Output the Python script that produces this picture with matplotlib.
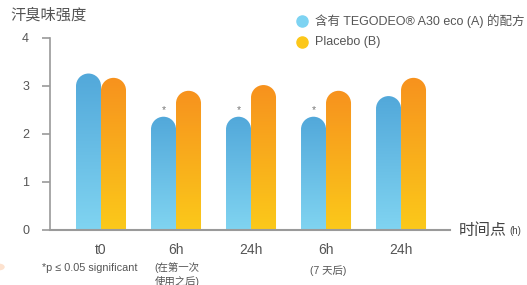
import numpy as np
import matplotlib
matplotlib.use('Agg')
import matplotlib.pyplot as plt
from matplotlib.path import Path
from matplotlib.patches import PathPatch, Circle
from matplotlib.lines import Line2D
from matplotlib.colors import LinearSegmentedColormap
from matplotlib.transforms import Affine2D

plt.rcParams['font.family'] = ['Liberation Sans', 'Noto Sans CJK SC', 'DejaVu Sans']

# --- data ---
groups = ["t0", "6h", "24h", "6h", "24h"]
values_a = [3.26, 2.36, 2.36, 2.36, 2.79]   # TEGODEO A30 eco
values_b = [3.17, 2.90, 3.02, 2.90, 3.17]   # Placebo
significant = [False, True, True, True, False]
legend_labels = ["含有 TEGODEO® A30 eco (A) 的配方", "Placebo (B)"]
y_ticks = [0, 1, 2, 3, 4]

W, H = 527, 285
fig = plt.figure(figsize=(W / 100, H / 100), dpi=100)
# axes: x 50..450 px, y (bottom) 230 .. (top) 20 px
ax = fig.add_axes([50 / W, (H - 230) / H, 400 / W, 210 / H])
XMIN, XMAX = -0.68, 4.653
YMAX = 210 / 48
ax.set_xlim(XMIN, XMAX)
ax.set_ylim(0, YMAX)

px_x = 400 / (XMAX - XMIN)
px_y = 210 / YMAX

blue_cmap = LinearSegmentedColormap.from_list("b", ["#80d4f1", "#52a8da"])
orange_cmap = LinearSegmentedColormap.from_list("o", ["#fbc91a", "#f7921e"])

bw = 1 / 3
grad = np.linspace(0, 1, 256).reshape(-1, 1)


def round_bar(xc, h, cmap):
    rx = bw / 2
    ry = rx * px_x / px_y
    x0, x1 = xc - rx, xc + rx
    arc = Path.arc(0, 180)
    arc = Affine2D().scale(rx, ry).translate(xc, h - ry).transform_path(arc)
    verts = [(x0, 0), (x1, 0), (x1, h - ry)] + list(arc.vertices[1:]) + [(x0, 0)]
    codes = [Path.MOVETO, Path.LINETO, Path.LINETO] + list(arc.codes[1:]) + [Path.CLOSEPOLY]
    patch = PathPatch(Path(verts, codes), facecolor='none', edgecolor='none')
    ax.add_patch(patch)
    im = ax.imshow(grad, extent=[x0, x1, 0, h], origin='lower', cmap=cmap,
                   aspect='auto', interpolation='bilinear', zorder=2)
    im.set_clip_path(patch)


x = np.arange(len(groups))
for i in range(len(groups)):
    round_bar(x[i] - bw / 2, values_a[i], blue_cmap)
    round_bar(x[i] + bw / 2, values_b[i], orange_cmap)
    if significant[i]:
        ax.text(x[i] - bw / 2, values_a[i] + 0.03, "*", ha='center', va='bottom',
                fontsize=7.5, color="#777777")

# axes styling
for s in ["top", "right"]:
    ax.spines[s].set_visible(False)
ax.spines["left"].set_color("#9a9a9a")
ax.spines["bottom"].set_color("#9a9a9a")
ax.spines["left"].set_linewidth(1.2)
ax.spines["bottom"].set_linewidth(1.5)
ax.spines["left"].set_bounds(0, 4)
ax.set_yticks(y_ticks)
ax.tick_params(axis='y', length=6, width=1.2, color="#9a9a9a", labelsize=9,
               labelcolor="#555555", pad=9)
ax.set_xticks(x)
ax.set_xticklabels(groups)
ax.tick_params(axis='x', length=0, labelsize=10, labelcolor="#555555", pad=9)

# titles / annotations
fig.text(10 / W, 1 - 15 / H, "汗臭味强度", fontsize=11, color="#555555",
         ha='left', va='center')
fig.text(459 / W, 1 - 230 / H, "时间点", fontsize=11.5, color="#444444",
         ha='left', va='center')
fig.text(509 / W, 1 - 231 / H, "(h)", fontsize=7, color="#444444",
         ha='left', va='center')
fig.text(42 / W, 1 - 268 / H, "*p ≤ 0.05 significant", fontsize=7.8, color="#555555",
         ha='left', va='center')
fig.text(177 / W, 1 - 268 / H, "(在第一次", fontsize=7.5, color="#555555",
         ha='center', va='center')
fig.text(177 / W, 1 - 281 / H, "使用之后)", fontsize=7.5, color="#555555",
         ha='center', va='center')
fig.text(328 / W, 1 - 271 / H, "(7 天后)", fontsize=7.5, color="#555555",
         ha='center', va='center')

# legend
leg_colors = ["#7dd3f2", "#fcc71a"]
for k, (lab, col) in enumerate(zip(legend_labels, leg_colors)):
    yy = 1 - (21 + 21 * k) / H
    fig.add_artist(Line2D([302 / W], [yy], marker='o', markersize=8, color=col,
                          linestyle='', transform=fig.transFigure))
    fig.text(315 / W, yy, lab, fontsize=9, color="#555555", ha='left', va='center')

# faint decoration at the left edge
fig.add_artist(Circle((-1 / W, 1 - 267 / H), 5 / W, color="#fde2cf",
                      transform=fig.transFigure))

fig.savefig("out.png", dpi=100)
